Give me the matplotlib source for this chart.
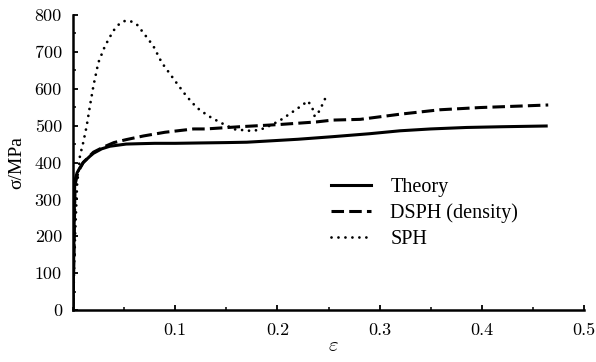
import matplotlib
matplotlib.use("Agg")
import matplotlib.pyplot as plt
from matplotlib.ticker import MultipleLocator, FixedLocator

theory_eps = [0, 0.0017, 0.004, 0.0068, 0.010, 0.0166, 0.020, 0.028, 0.036, 0.044,
              0.052, 0.065, 0.080, 0.100, 0.124, 0.150, 0.170, 0.189, 0.220, 0.254,
              0.290, 0.320, 0.350, 0.385, 0.420, 0.463]
theory_sig = [0, 350, 372, 386, 400, 417, 425, 437, 444, 447,
              450, 451, 452, 452, 453, 454, 455, 458, 463, 470,
              478, 486, 491, 495, 497, 499]

dsph_eps = [0, 0.002, 0.005, 0.010, 0.020, 0.030, 0.040, 0.052, 0.069, 0.090,
            0.118, 0.130, 0.163, 0.202, 0.238, 0.254, 0.281, 0.320, 0.359, 0.398,
            0.437, 0.465]
dsph_sig = [0, 340, 375, 400, 428, 442, 454, 462, 472, 482,
            491, 491, 497, 503, 510, 515, 517, 531, 543, 549,
            553, 556]

sph_eps = [0, 0.002, 0.004, 0.0068, 0.010, 0.0134, 0.0166, 0.020, 0.0248, 0.0313,
           0.0394, 0.046, 0.0509, 0.0558, 0.0623, 0.0688, 0.0786, 0.0868, 0.101, 0.111,
           0.121, 0.132, 0.1437, 0.158, 0.173, 0.182, 0.189, 0.202, 0.219, 0.230,
           0.2345, 0.2365, 0.240, 0.243, 0.2465]
sph_sig = [0, 200, 340, 418, 454, 499, 554, 608, 671, 716,
           757, 778, 784, 784, 775, 752, 716, 671, 617, 580,
           549, 527, 509, 490, 486, 488, 495, 513, 545, 567,
           545, 525, 535, 551, 572]

xticks = [0.1, 0.2, 0.3, 0.4, 0.5]
xticklabels = ["0.1", "0.2", "0.3", "0.4", "0.5"]
yticks = [0, 100, 200, 300, 400, 500, 600, 700, 800]
yticklabels = ["0", "100", "200", "300", "400", "500", "600", "700", "800"]

serif = "Liberation Serif"
plt.rcParams["mathtext.fontset"] = "cm"

fig = plt.figure(figsize=(5.96, 3.62), dpi=100)
ax = fig.add_axes([73/596, 1-310/362, 511/596, 295/362])

ax.plot(theory_eps, theory_sig, color="black", lw=2.2, ls="-", label="Theory")
ax.plot(dsph_eps, dsph_sig, color="black", lw=2.2, ls=(0, (4.1, 1.7)), label="DSPH (density)")
ax.plot(sph_eps, sph_sig, color="black", lw=2.0, ls=(0, (0.01, 2.5)),
        dash_capstyle="round", label="SPH")

ax.set_xlim(0, 0.5)
ax.set_ylim(0, 800)
for s in ["top", "right"]:
    ax.spines[s].set_visible(False)
for s in ["left", "bottom"]:
    ax.spines[s].set_linewidth(1.8)

ax.xaxis.set_major_locator(FixedLocator(xticks))
ax.set_xticklabels(xticklabels)
ax.xaxis.set_minor_locator(MultipleLocator(0.05))
ax.yaxis.set_major_locator(FixedLocator(yticks))
ax.set_yticklabels(yticklabels)
ax.yaxis.set_minor_locator(MultipleLocator(50))

ax.tick_params(axis="both", which="major", direction="in", length=3.5, width=1.3)
ax.tick_params(axis="both", which="minor", direction="in", length=2, width=1.1)
ax.tick_params(axis="x", which="major", pad=9)
ax.tick_params(axis="y", which="major", pad=8)

for lab in ax.get_xticklabels() + ax.get_yticklabels():
    lab.set_fontfamily("cmr10")
    lab.set_fontsize(13)

ax.set_ylabel("σ/MPa", fontfamily=serif, fontsize=14)
ax.yaxis.set_label_coords(-0.094, 0.5)
ax.set_xlabel(r"$\varepsilon$", fontsize=15)
ax.xaxis.set_label_coords((333-73)/511, -0.085)

leg = ax.legend(loc="upper left", bbox_to_anchor=((331-73)/511, 1-(178-15)/295),
                frameon=False, prop={"family": serif, "size": 14.5},
                handlelength=2.0, handletextpad=0.95, labelspacing=0.32,
                borderaxespad=0, borderpad=0)

fig.savefig("out.png", dpi=100)
